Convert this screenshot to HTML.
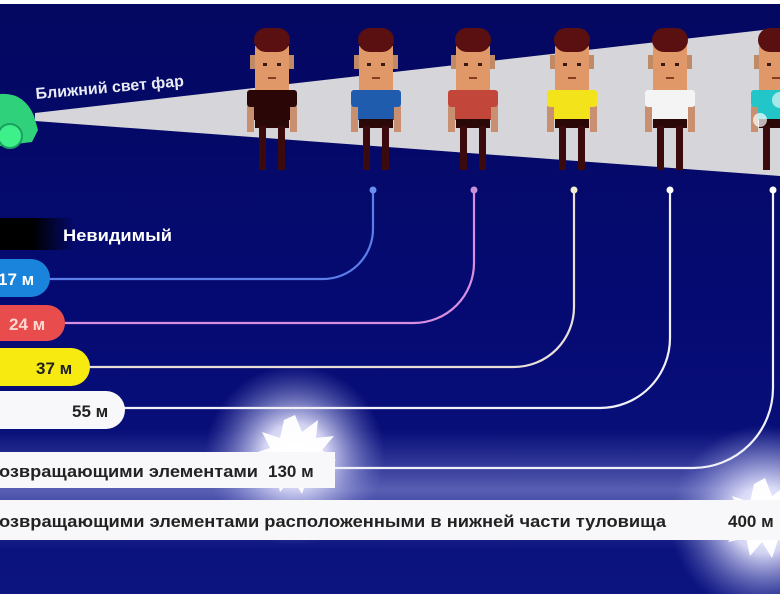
<!DOCTYPE html>
<html><head><meta charset="utf-8"><style>
html,body{margin:0;padding:0;background:#fff;}
svg{display:block;}
text{font-family:"Liberation Sans",sans-serif;font-weight:bold;}
</style></head><body>
<svg width="780" height="600" viewBox="0 0 780 600" xmlns="http://www.w3.org/2000/svg">
<defs>
  <linearGradient id="bg" x1="0" y1="0" x2="0" y2="1">
    <stop offset="0" stop-color="#040860"/>
    <stop offset="0.5" stop-color="#050a72"/>
    <stop offset="1" stop-color="#0c1480"/>
  </linearGradient>
  <linearGradient id="blk" x1="0" y1="0" x2="1" y2="0">
    <stop offset="0" stop-color="#000"/>
    <stop offset="0.6" stop-color="#000"/>
    <stop offset="1" stop-color="#000" stop-opacity="0"/>
  </linearGradient>
  <radialGradient id="glow">
    <stop offset="0" stop-color="#fff" stop-opacity="1"/>
    <stop offset="0.35" stop-color="#e8e8ff" stop-opacity="0.9"/>
    <stop offset="1" stop-color="#8a8fd8" stop-opacity="0"/>
  </radialGradient>
  <linearGradient id="haze" x1="0" y1="0" x2="0" y2="1">
    <stop offset="0" stop-color="#7a80d0" stop-opacity="0"/>
    <stop offset="0.5" stop-color="#9aa0e0" stop-opacity="0.55"/>
    <stop offset="1" stop-color="#7a80d0" stop-opacity="0"/>
  </linearGradient>
  <g id="p">
    <rect x="-22" y="55" width="6" height="14" fill="#c08a66"/>
    <rect x="16" y="55" width="6" height="14" fill="#c08a66"/>
    <rect x="-17" y="46" width="34" height="44" fill="#e09868"/>
    <rect x="-18" y="28" width="36" height="24" rx="12" fill="#5a1010"/>
    <rect x="-9" y="63" width="4" height="3" fill="#3a1a10"/>
    <rect x="5" y="63" width="4" height="3" fill="#3a1a10"/>
    <rect x="-4" y="77" width="8" height="2" fill="#8a3a20"/>
    <rect x="-25" y="106" width="7" height="26" fill="#c89070"/>
    <rect x="18" y="106" width="7" height="26" fill="#c89070"/>
    <rect x="-25" y="90" width="50" height="17" rx="3" fill="currentColor"/>
    <rect x="-18" y="90" width="36" height="30" fill="currentColor"/>
    <rect x="-17" y="119" width="34" height="9" fill="#2a0808"/>
    <rect x="-13" y="126" width="7" height="44" fill="#3a0a0c"/>
    <rect x="6" y="126" width="7" height="44" fill="#3a0a0c"/>
  </g>
</defs>
<rect width="780" height="600" fill="#fff"/>
<rect y="4" width="780" height="590" fill="url(#bg)"/>

<polygon points="35,113 780,28 780,176 35,121" fill="#d6d6da"/>
<use href="#p" transform="translate(272,0)" color="#2a0606"/>
<use href="#p" transform="translate(376,0)" color="#1f5cae"/>
<use href="#p" transform="translate(473,0)" color="#c2463a"/>
<use href="#p" transform="translate(572,0)" color="#f3e31a"/>
<use href="#p" transform="translate(670,0)" color="#f4f4f4"/>
<use href="#p" transform="translate(776,0)" color="#22c6c8"/>
<circle cx="760" cy="120" r="7" fill="#fff" opacity="0.7"/>
<circle cx="780" cy="100" r="8" fill="#fff" opacity="0.6"/>

<path d="M0,94 Q24,92 34,116 L38,130 L32,142 L0,146 Z" fill="#2fd27a"/>
<circle cx="10" cy="136" r="12" fill="#3ef08a" stroke="#1aa060" stroke-width="2"/>
<text x="36" y="99" fill="#e8eaf4" font-size="16" transform="rotate(-5 36 99)">Ближний свет фар</text>

<rect x="0" y="430" width="780" height="120" fill="url(#haze)"/>
<circle cx="295" cy="455" r="90" fill="url(#glow)"/>
<circle cx="765" cy="520" r="95" fill="url(#glow)"/>

<g fill="none" stroke-width="2.2">
  <path d="M373,190 V229 A50,50 0 0 1 323,279 H40" stroke="#5b7ee8"/>
  <path d="M474,190 V263 A60,60 0 0 1 414,323 H55" stroke="#d88ee0"/>
  <path d="M574,190 V307 A60,60 0 0 1 514,367 H80" stroke="#e8e0d8"/>
  <path d="M670,190 V338 A70,70 0 0 1 600,408 H115" stroke="#f0f0f8"/>
  <path d="M773,190 V388 A80,80 0 0 1 693,468 H330" stroke="#f0f0f8"/>
</g>
<g fill="#fff">
  <circle cx="373" cy="190" r="3.5" fill="#6a8ef0"/>
  <circle cx="474" cy="190" r="3.5" fill="#c890d8"/>
  <circle cx="574" cy="190" r="3.5" fill="#f0ecd0"/>
  <circle cx="670" cy="190" r="3.5"/>
  <circle cx="773" cy="190" r="3.5"/>
</g>

<rect x="-30" y="218" width="105" height="32" fill="url(#blk)"/>
<text x="63" y="241" fill="#fff" font-size="17" textLength="109" lengthAdjust="spacingAndGlyphs">Невидимый</text>
<rect x="-30" y="259" width="80" height="38" rx="19" fill="#1a84dc"/>
<text x="-2" y="285" fill="#fff" font-size="17">17 м</text>
<rect x="-30" y="305" width="95" height="36" rx="18" fill="#e84c4c"/>
<text x="9" y="330" fill="#ffd8d0" font-size="17">24 м</text>
<rect x="-30" y="348" width="120" height="38" rx="19" fill="#f6ea10"/>
<text x="36" y="374" fill="#222" font-size="17">37 м</text>
<rect x="-30" y="391" width="155" height="38" rx="19" fill="#f8f8fa"/>
<text x="72" y="417" fill="#222" font-size="17">55 м</text>

<polygon fill="#fff" opacity="0.95" points="295,415 302,432 318,420 316,438 334,436 322,450 336,460 318,466 326,482 308,476 302,494 292,478 280,492 276,474 258,478 268,464 252,454 270,448 262,432 280,438 284,420"/>
<polygon fill="#fff" opacity="0.95" points="765,478 772,496 788,484 786,502 804,500 792,514 806,524 788,530 796,546 778,540 772,558 762,542 750,556 746,538 728,542 738,528 722,518 740,512 732,496 750,502 754,484"/>

<rect x="0" y="452" width="335" height="36" fill="#f8f8fa"/>
<text x="-1" y="477" fill="#222" font-size="17" textLength="259" lengthAdjust="spacingAndGlyphs">озвращающими элементами</text>
<text x="268" y="477" fill="#222" font-size="17">130 м</text>
<rect x="0" y="500" width="780" height="40" fill="#f8f8fa"/>
<text x="-1" y="527" fill="#222" font-size="17" textLength="667" lengthAdjust="spacingAndGlyphs">озвращающими элементами расположенными в нижней части туловища</text>
<text x="728" y="527" fill="#222" font-size="17">400 м</text>

<rect y="594" width="780" height="6" fill="#fff"/>
</svg>
</body></html>
